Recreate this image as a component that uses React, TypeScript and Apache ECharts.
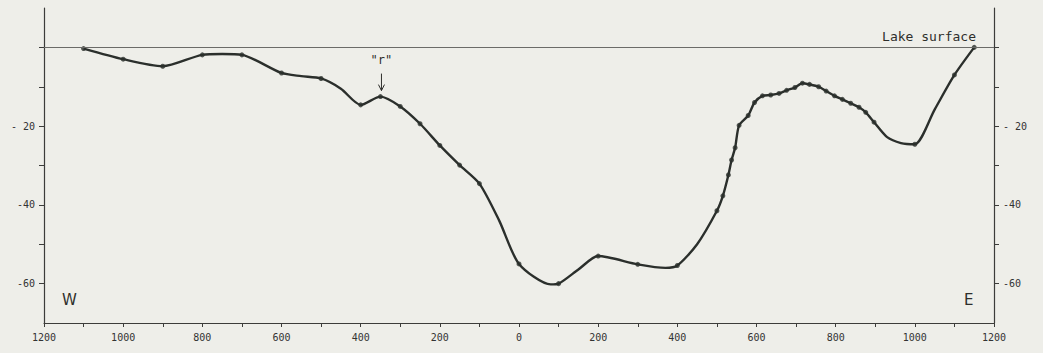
import React, { useEffect, useRef } from "react";
import * as echarts from "echarts";

// Sounding points (marked on the profile): distance from centre (W negative, E positive), depth in m
const soundingX = [
  -1100, -1000, -900, -800, -700, -600, -500, -400, -350, -300, -250, -200, -150, -100,
  0, 100, 200, 300, 400, 500, 515, 529, 537, 546, 556, 579, 595, 615, 636, 657, 676, 697,
  716, 734, 757, 776, 797, 817, 838, 859, 876, 897, 1000, 1100, 1150,
];
const soundingDepth = [
  -0.3, -3, -4.8, -1.9, -1.9, -6.5, -7.9, -14.6, -12.5, -15, -19.4, -24.9, -29.9, -34.6,
  -55, -60, -53, -55.1, -55.4, -41.5, -37.7, -32.4, -28.6, -25.5, -19.8, -17.3, -14, -12.3,
  -12.1, -11.7, -10.9, -10.2, -9.1, -9.4, -10, -11.1, -12.3, -13.2, -14.2, -15.2, -16.5,
  -19, -24.6, -7, 0,
];
// Unmarked points that give the drawn profile its shape between soundings
const shapeX = [-750, -550, -450, -50, 80, 150, 370, 450, 930, 965, 1050];
const shapeDepth = [-1.7, -7.3, -10.5, -44, -60.2, -56.4, -56, -50, -22.8, -24.3, -15.8];

const xLabelValues = [-1200, -1000, -800, -600, -400, -200, 0, 200, 400, 600, 800, 1000, 1200];
const yLabelValues = [-60, -40, -20];
const yTickValues = [-60, -50, -40, -30, -20, -10, 0];
const annotationX = -350;
const annotationDepth = -12.5;

const INK = "#2b2f2c";
const AXIS = "#3c3c3a";
const FONT = "'DejaVu Sans Mono', monospace";

export default function App() {
  const ref = useRef<HTMLDivElement>(null);

  useEffect(() => {
    document.body.style.margin = "0";
    if (!ref.current) return;
    const chart = echarts.init(ref.current, null, { renderer: "svg" });

    const profile = soundingX
      .map((x, i) => [x, soundingDepth[i]])
      .concat(shapeX.map((x, i) => [x, shapeDepth[i]]))
      .sort((a, b) => a[0] - b[0]);
    const soundings = soundingX.map((x, i) => [x, soundingDepth[i]]);

    const yAxisBase = (position: "left" | "right") => ({
      type: "value",
      position,
      min: -70,
      max: 10,
      interval: 10,
      axisLine: { show: true, onZero: false, lineStyle: { color: AXIS, width: 1.2 } },
      axisTick: {
        show: true,
        length: 5,
        customValues: yTickValues,
        lineStyle: { color: AXIS, width: 1 },
      },
      axisLabel: {
        customValues: yLabelValues,
        formatter: (v: number) =>
          yLabelValues.includes(v) ? (v === -20 ? "- 20" : String(v)) : "",
        margin: 9,
        fontFamily: FONT,
        fontSize: 10,
        color: "#333",
      },
      splitLine: { show: false },
    });

    chart.setOption({
      animation: false,
      backgroundColor: "#eeeee9",
      grid: { left: 44, right: 49, top: 8, bottom: 30 },
      xAxis: {
        type: "value",
        min: -1200,
        max: 1200,
        interval: 100,
        axisLine: { show: true, onZero: false, lineStyle: { color: AXIS, width: 1.2 } },
        axisTick: { show: true, length: 4, lineStyle: { color: AXIS, width: 1 } },
        axisLabel: {
          customValues: xLabelValues,
          formatter: (v: number) => (xLabelValues.includes(v) ? String(Math.abs(v)) : ""),
          margin: 9,
          fontFamily: FONT,
          fontSize: 10,
          color: "#333",
        },
        splitLine: { show: false },
      },
      yAxis: [yAxisBase("left"), yAxisBase("right")],
      series: [
        {
          type: "line",
          data: profile,
          smooth: 0.25,
          showSymbol: false,
          lineStyle: { color: INK, width: 2.4 },
          z: 3,
          markLine: {
            silent: true,
            symbol: "none",
            label: { show: false },
            lineStyle: { color: "#6b6b68", width: 1, type: "solid" },
            data: [{ yAxis: 0 }],
          },
        },
        {
          type: "scatter",
          data: soundings,
          symbol: "circle",
          symbolSize: 5,
          itemStyle: { color: INK },
          z: 4,
        },
      ],
    });

    const [px, py] = chart.convertToPixel({ gridIndex: 0 }, [annotationX, annotationDepth]) as number[];

    chart.setOption({
      graphic: [
        {
          type: "text",
          right: 1043 - 976,
          top: 30,
          style: {
            text: "Lake surface",
            font: `13px ${FONT}`,
            fill: "#2e2e2c",
          },
        },
        {
          type: "text",
          left: 62,
          top: 292,
          style: { text: "W", font: "15px 'DejaVu Sans'", fill: "#2e2e2c" },
        },
        {
          type: "text",
          left: 964,
          top: 292,
          style: { text: "E", font: "15px 'DejaVu Sans'", fill: "#2e2e2c" },
        },
        {
          type: "text",
          x: px + 1,
          y: py - 37,
          style: {
            text: '"r"',
            font: `12px ${FONT}`,
            fill: "#2e2e2c",
            align: "center",
            verticalAlign: "middle",
          },
        },
        {
          type: "line",
          shape: { x1: px + 1, y1: py - 23, x2: px + 1, y2: py - 6 },
          style: { stroke: "#2e2e2c", lineWidth: 1 },
        },
        {
          type: "polyline",
          shape: { points: [[px - 2, py - 12], [px + 1, py - 6], [px + 4, py - 12]] },
          style: { stroke: "#2e2e2c", lineWidth: 1, fill: "none" },
        },
      ],
    });

    return () => chart.dispose();
  }, []);

  return <div ref={ref} style={{ width: 1043, height: 353 }} />;
}
